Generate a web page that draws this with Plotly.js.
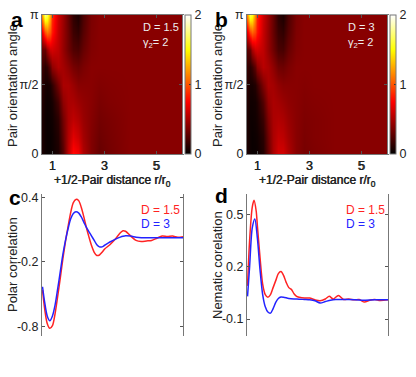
<!DOCTYPE html>
<html>
<head>
<meta charset="utf-8">
<script src="https://cdn.plot.ly/plotly-3.0.1.min.js"></script>
<style>
  html, body { margin: 0; padding: 0; background: #fff; }
  #fig { width: 416px; height: 377px; }
</style>
</head>
<body>
<div id="fig"></div>
<script>
// Grila pentru hartile a / b: distanta r/r0 pe coloane, unghiul (in unitati de pi) pe randuri
const rGrid = [0.6, 0.7, 0.8, 0.9, 1.0, 1.2, 1.4, 1.6, 1.8, 2.0, 2.2, 2.5, 2.8, 3.2, 4.0, 5.0, 6.0];
const angleGrid = [0, 0.125, 0.25, 0.375, 0.5, 0.625, 0.75, 0.875, 1];

// D = 1.5 (panel a), randuri de jos (0) in sus (pi)
const zA = [
  [0.08, 0.04, 0.03, 0.03, 0.04, 0.08, 0.25, 0.55, 0.78, 0.72, 0.52, 0.38, 0.30, 0.34, 0.40, 0.40, 0.40],
  [0.08, 0.04, 0.03, 0.03, 0.04, 0.10, 0.30, 0.52, 0.66, 0.60, 0.48, 0.38, 0.32, 0.35, 0.40, 0.40, 0.40],
  [0.08, 0.04, 0.03, 0.04, 0.05, 0.13, 0.34, 0.50, 0.56, 0.52, 0.45, 0.39, 0.34, 0.36, 0.40, 0.40, 0.40],
  [0.10, 0.05, 0.04, 0.05, 0.07, 0.20, 0.42, 0.50, 0.50, 0.46, 0.43, 0.40, 0.36, 0.38, 0.40, 0.40, 0.40],
  [0.12, 0.07, 0.06, 0.08, 0.14, 0.34, 0.50, 0.50, 0.45, 0.40, 0.40, 0.40, 0.38, 0.39, 0.40, 0.40, 0.40],
  [0.18, 0.12, 0.15, 0.28, 0.42, 0.52, 0.48, 0.42, 0.35, 0.32, 0.36, 0.40, 0.40, 0.40, 0.40, 0.40, 0.40],
  [0.30, 0.30, 0.45, 0.60, 0.62, 0.56, 0.44, 0.33, 0.24, 0.22, 0.30, 0.38, 0.40, 0.40, 0.40, 0.40, 0.40],
  [0.70, 1.00, 1.10, 1.00, 0.82, 0.58, 0.45, 0.32, 0.18, 0.14, 0.25, 0.37, 0.40, 0.40, 0.40, 0.40, 0.40],
  [1.20, 1.75, 1.65, 1.25, 0.88, 0.60, 0.46, 0.30, 0.14, 0.08, 0.22, 0.36, 0.40, 0.40, 0.40, 0.40, 0.40],
];

// D = 3 (panel b)
const zB = [
  [0.08, 0.04, 0.03, 0.03, 0.04, 0.10, 0.30, 0.50, 0.62, 0.62, 0.52, 0.40, 0.35, 0.37, 0.40, 0.40, 0.40],
  [0.08, 0.04, 0.03, 0.04, 0.05, 0.12, 0.33, 0.50, 0.57, 0.55, 0.48, 0.40, 0.36, 0.38, 0.40, 0.40, 0.40],
  [0.08, 0.04, 0.04, 0.05, 0.07, 0.17, 0.38, 0.50, 0.52, 0.50, 0.45, 0.40, 0.37, 0.38, 0.40, 0.40, 0.40],
  [0.10, 0.05, 0.05, 0.06, 0.09, 0.24, 0.44, 0.50, 0.48, 0.45, 0.42, 0.40, 0.38, 0.39, 0.40, 0.40, 0.40],
  [0.12, 0.07, 0.07, 0.10, 0.17, 0.37, 0.50, 0.48, 0.43, 0.40, 0.40, 0.40, 0.39, 0.40, 0.40, 0.40, 0.40],
  [0.16, 0.12, 0.17, 0.28, 0.42, 0.54, 0.50, 0.42, 0.33, 0.32, 0.36, 0.40, 0.40, 0.40, 0.40, 0.40, 0.40],
  [0.26, 0.30, 0.48, 0.60, 0.62, 0.56, 0.44, 0.33, 0.22, 0.21, 0.30, 0.38, 0.40, 0.40, 0.40, 0.40, 0.40],
  [0.65, 0.95, 1.05, 0.95, 0.80, 0.58, 0.44, 0.30, 0.17, 0.14, 0.25, 0.37, 0.40, 0.40, 0.40, 0.40, 0.40],
  [1.15, 1.65, 1.55, 1.15, 0.85, 0.60, 0.45, 0.30, 0.13, 0.08, 0.22, 0.36, 0.40, 0.40, 0.40, 0.40, 0.40],
];

// Polar correlation (panel c)
const rPolar = [0.62, 0.7, 0.8, 0.9, 1.0, 1.1, 1.2, 1.3, 1.4, 1.5, 1.6, 1.7, 1.8, 1.9, 2.0, 2.1, 2.2, 2.3, 2.4, 2.5,
  2.6, 2.7, 2.8, 2.9, 3.0, 3.2, 3.4, 3.6, 3.7, 3.8, 4.0, 4.2, 4.4, 4.6, 4.8, 5.0, 5.2, 5.4, 5.6, 5.8, 6.0];
const polarD15 = [-0.46, -0.63, -0.77, -0.815, -0.79, -0.68, -0.52, -0.35, -0.17, -0.01, 0.13, 0.26, 0.35, 0.38, 0.37,
  0.31, 0.22, 0.12, 0.03, -0.05, -0.11, -0.14, -0.135, -0.11, -0.08, -0.04, 0.01, 0.07, 0.09, 0.085, 0.04, 0.0,
  -0.01, -0.005, 0.0, 0.02, 0.04, 0.035, 0.04, 0.03, 0.035];
const polarD3 = [-0.43, -0.57, -0.70, -0.745, -0.70, -0.60, -0.45, -0.29, -0.13, 0.0, 0.11, 0.20, 0.25, 0.265, 0.255,
  0.22, 0.17, 0.12, 0.08, 0.04, 0.0, -0.04, -0.06, -0.06, -0.045, -0.015, 0.01, 0.03, 0.038, 0.043, 0.04, 0.03,
  0.025, 0.025, 0.025, 0.025, 0.025, 0.025, 0.025, 0.025, 0.025];

// Nematic corelation (panel d)
const rNemRed = [0.62, 0.7, 0.8, 0.87, 0.95, 1.0, 1.1, 1.2, 1.3, 1.4, 1.5, 1.6, 1.7, 1.8, 1.9, 2.0, 2.1, 2.2, 2.3, 2.4,
  2.5, 2.6, 2.8, 3.0, 3.2, 3.4, 3.6, 3.75, 3.9, 4.1, 4.3, 4.5, 4.7, 4.9, 5.1, 5.3, 5.5, 5.7, 6.0];
const nemD15 = [0.09, 0.35, 0.54, 0.58, 0.52, 0.43, 0.25, 0.10, 0.04, 0.025, 0.04, 0.08, 0.12, 0.16, 0.172, 0.15,
  0.11, 0.08, 0.07, 0.045, 0.03, 0.025, 0.02, 0.02, 0.01, 0.005, 0.015, 0.03, 0.015, 0.035, 0.012, 0.015, 0.01,
  0.012, -0.003, 0.008, 0.012, 0.006, 0.01];
const rNemBlue = [0.62, 0.7, 0.8, 0.9, 1.0, 1.1, 1.2, 1.3, 1.4, 1.5, 1.6, 1.7, 1.8, 1.9, 2.0, 2.2, 2.4, 2.6, 2.8, 3.0,
  3.2, 3.4, 3.6, 3.8, 4.0, 4.5, 5.0, 5.5, 6.0];
const nemD3 = [0.03, 0.20, 0.42, 0.473, 0.36, 0.18, 0.04, -0.03, -0.06, -0.066, -0.04, -0.005, 0.018, 0.026, 0.025,
  0.018, 0.015, 0.014, 0.012, 0.01, 0.005, -0.008, 0.0, 0.008, 0.012, 0.012, 0.008, 0.01, 0.01];

const RED = 'rgb(255,35,35)';
const BLUE = 'rgb(35,35,255)';
const FONT = 'Liberation Sans, Arial, sans-serif';
const HOT = [[0, 'rgb(0,0,0)'], [0.375, 'rgb(255,0,0)'], [0.75, 'rgb(255,255,0)'], [1, 'rgb(255,255,255)']];

const W = 416, H = 377;
const px = v => v / W;
const py = v => 1 - v / H;

function heat(z, xa, ya, cbX) {
  return {
    type: 'heatmap', x: rGrid, y: angleGrid, z: z, xaxis: xa, yaxis: ya,
    colorscale: HOT, zmin: 0, zmax: 2, zsmooth: 'best',
    colorbar: {
      x: px(cbX), xanchor: 'left', y: py(84.5), yanchor: 'middle',
      len: 139, lenmode: 'pixels', thickness: 6, thicknessmode: 'pixels',
      outlinecolor: '#777', outlinewidth: 1, xpad: 0, ypad: 0,
      tickvals: [0, 1, 2], ticks: 'inside', ticklen: 2, tickcolor: '#333',
      tickfont: { size: 12.5, family: FONT, color: '#222' },
    },
  };
}

function line(x, y, color, xa, ya) {
  return {
    type: 'scatter', mode: 'lines', x: x, y: y, xaxis: xa, yaxis: ya,
    line: { color: color, width: 1.5, shape: 'spline', smoothing: 0.8 },
    showlegend: false,
  };
}

const traces = [
  heat(zA, 'x', 'y', 185),
  heat(zB, 'x2', 'y2', 390),
  line(rPolar, polarD15, RED, 'x3', 'y3'),
  line(rPolar, polarD3, BLUE, 'x3', 'y3'),
  line(rNemRed, nemD15, RED, 'x4', 'y4'),
  line(rNemBlue, nemD3, BLUE, 'x4', 'y4'),
];

const axBase = {
  showline: true, mirror: 'ticks', linecolor: '#777', linewidth: 1,
  ticks: 'inside', ticklen: 3, tickcolor: '#555', showgrid: false, zeroline: false,
  tickfont: { size: 12.5, family: FONT, color: '#222' },
};
const xTitle = { text: '+1/2-Pair distance r/r<sub>0</sub>', font: { size: 12, family: FONT, color: '#222' }, standoff: 2 };

function xAxis(dom) {
  return Object.assign({}, axBase, {
    domain: dom, range: [0.6, 6], tickvals: [1, 3, 5], ticktext: ['1', '3', '5'], title: xTitle,
  });
}

const layout = {
  width: W, height: H,
  margin: { l: 0, r: 0, t: 0, b: 0 },
  paper_bgcolor: '#fff', plot_bgcolor: '#fff',
  font: { family: FONT, color: '#222' },
  showlegend: false,
  xaxis: xAxis([px(42), px(182)]),
  xaxis2: xAxis([px(247), px(387)]),
  xaxis3: xAxis([px(42), px(183)]),
  xaxis4: xAxis([px(247), px(388)]),
  yaxis: Object.assign({}, axBase, {
    domain: [py(154), py(15)], range: [0, 1], anchor: 'x',
    tickvals: [0, 0.5, 1], ticktext: ['0', 'π/2', 'π'],
  }),
  yaxis2: Object.assign({}, axBase, {
    domain: [py(154), py(15)], range: [0, 1], anchor: 'x2',
    tickvals: [0, 0.5, 1], ticktext: ['0', 'π/2', 'π'],
  }),
  yaxis3: Object.assign({}, axBase, {
    domain: [py(336), py(194)], range: [-0.886, 0.43], anchor: 'x3',
    tickvals: [-0.8, -0.2, 0.4], ticktext: ['-0.8', '-0.2', '0.4'],
  }),
  yaxis4: Object.assign({}, axBase, {
    domain: [py(336), py(194)], range: [-0.197, 0.616], anchor: 'x4',
    tickvals: [-0.1, 0.2, 0.5], ticktext: ['-0.1', '0.2', '0.5'],
  }),
  annotations: [],
};

// titluri axe y (ca adnotari, pozitie fixa)
const yTitles = [
  ['Pair orientation angle', 12, 86],
  ['Pair orientation angle', 217, 86],
  ['Polar correlation', 12, 265],
  ['Nematic corelation', 217, 265],
];
for (const [t, x, y] of yTitles) {
  layout.annotations.push({
    xref: 'paper', yref: 'paper', x: px(x), y: py(y), xanchor: 'center', yanchor: 'middle',
    text: t, textangle: -90, showarrow: false, font: { size: 13, family: FONT, color: '#222' },
  });
}

// etichete panouri
const letters = [['a', 9, 19], ['b', 213, 19], ['c', 7, 197], ['d', 213, 195]];
for (const [t, x, y] of letters) {
  layout.annotations.push({
    xref: 'paper', yref: 'paper', x: px(x), y: py(y), xanchor: 'left', yanchor: 'middle',
    text: '<b>' + t + '</b>', showarrow: false, font: { size: 21, family: FONT, color: '#000' },
  });
}

// texte in harti
const heatText = [['D = 1.5', 141], ['D = 3', 346]];
for (const [t, x] of heatText) {
  layout.annotations.push({
    xref: 'paper', yref: 'paper', x: px(x), y: py(27), xanchor: 'left', yanchor: 'middle',
    text: t, showarrow: false, font: { size: 11, family: FONT, color: '#eee' },
  });
  layout.annotations.push({
    xref: 'paper', yref: 'paper', x: px(x), y: py(43), xanchor: 'left', yanchor: 'middle',
    text: 'γ<sub>2</sub>= 2', showarrow: false, font: { size: 11, family: FONT, color: '#eee' },
  });
}

// legende panouri c / d
for (const x of [139, 344]) {
  layout.annotations.push({
    xref: 'paper', yref: 'paper', x: px(x), y: py(210), xanchor: 'left', yanchor: 'middle',
    text: 'D = 1.5', showarrow: false, font: { size: 12, family: FONT, color: RED },
  });
  layout.annotations.push({
    xref: 'paper', yref: 'paper', x: px(x), y: py(224), xanchor: 'left', yanchor: 'middle',
    text: 'D = 3', showarrow: false, font: { size: 12, family: FONT, color: BLUE },
  });
}

Plotly.newPlot('fig', traces, layout, { staticPlot: true, displayModeBar: false });
</script>
</body>
</html>
